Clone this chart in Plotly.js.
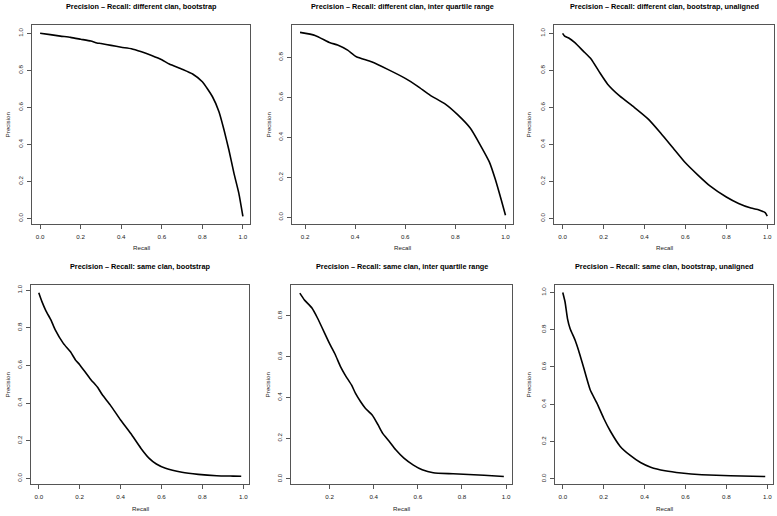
<!DOCTYPE html>
<html>
<head>
<meta charset="utf-8">
<script src="https://cdn.plot.ly/plotly-3.0.1.min.js"></script>
<style>html,body{margin:0;padding:0;background:#fff;}#chart{width:777px;height:516px;}</style>
</head>
<body>
<div id="chart"></div>
<script>
// ---- data ----
const titles = [
  "Precision \u2013 Recall: different clan, bootstrap",
  "Precision \u2013 Recall: different clan, inter quartile range",
  "Precision \u2013 Recall: different clan, bootstrap, unaligned",
  "Precision \u2013 Recall: same clan, bootstrap",
  "Precision \u2013 Recall: same clan, inter quartile range",
  "Precision \u2013 Recall: same clan, bootstrap, unaligned"
];
const xLabel = "Recall";
const yLabel = "Precision";

const recall1 = [0, 0.05, 0.1, 0.15, 0.2, 0.25, 0.28, 0.3, 0.35, 0.4, 0.45, 0.5, 0.55, 0.6, 0.637, 0.7, 0.752, 0.8, 0.85, 0.882, 0.907, 0.931, 0.956, 0.98, 1.0];
const precision1 = [1.0, 0.993, 0.985, 0.978, 0.968, 0.958, 0.948, 0.945, 0.935, 0.925, 0.917, 0.9, 0.88, 0.857, 0.834, 0.806, 0.78, 0.738, 0.657, 0.576, 0.477, 0.369, 0.243, 0.135, 0.01];

const recall2 = [0.18, 0.24, 0.30, 0.33, 0.37, 0.405, 0.465, 0.53, 0.60, 0.65, 0.70, 0.76, 0.81, 0.86, 0.90, 0.935, 0.96, 0.983, 1.0];
const precision2 = [0.925, 0.91, 0.873, 0.862, 0.836, 0.803, 0.778, 0.74, 0.695, 0.655, 0.61, 0.566, 0.512, 0.445, 0.36, 0.278, 0.187, 0.087, 0.01];

const recall3 = [0, 0.01, 0.03, 0.06, 0.1, 0.14, 0.18, 0.22, 0.28, 0.35, 0.42, 0.48, 0.54, 0.6, 0.66, 0.72, 0.8, 0.86, 0.92, 0.96, 0.99, 1.0];
const precision3 = [1.0, 0.985, 0.975, 0.95, 0.905, 0.86, 0.79, 0.725, 0.66, 0.6, 0.535, 0.46, 0.38, 0.3, 0.235, 0.175, 0.115, 0.08, 0.055, 0.045, 0.03, 0.012];

const recall4 = [0, 0.015, 0.035, 0.06, 0.08, 0.12, 0.155, 0.18, 0.2, 0.25, 0.29, 0.31, 0.35, 0.4, 0.45, 0.5, 0.54, 0.575, 0.62, 0.7, 0.78, 0.87, 0.95, 0.99];
const precision4 = [0.986, 0.94, 0.89, 0.84, 0.79, 0.717, 0.672, 0.628, 0.604, 0.531, 0.48, 0.445, 0.389, 0.31, 0.238, 0.159, 0.106, 0.076, 0.053, 0.032, 0.021, 0.014, 0.012, 0.011];

const recall5 = [0.065, 0.085, 0.12, 0.145, 0.2, 0.225, 0.25, 0.27, 0.3, 0.317, 0.34, 0.362, 0.393, 0.42, 0.44, 0.47, 0.5, 0.537, 0.58, 0.62, 0.67, 0.76, 0.9, 0.99];
const precision5 = [0.912, 0.88, 0.839, 0.79, 0.664, 0.612, 0.55, 0.511, 0.46, 0.421, 0.38, 0.347, 0.314, 0.265, 0.225, 0.185, 0.143, 0.102, 0.068, 0.045, 0.03, 0.025, 0.018, 0.012];

const recall6 = [0, 0.011, 0.023, 0.036, 0.06, 0.077, 0.1, 0.134, 0.167, 0.2, 0.233, 0.28, 0.33, 0.38, 0.43, 0.5, 0.58, 0.68, 0.82, 0.99];
const precision6 = [1.0, 0.95, 0.86, 0.805, 0.745, 0.69, 0.605, 0.478, 0.406, 0.325, 0.255, 0.175, 0.125, 0.087, 0.062, 0.043, 0.031, 0.022, 0.016, 0.012];

const recalls = [recall1, recall2, recall3, recall4, recall5, recall6];
const precisions = [precision1, precision2, precision3, precision4, precision5, precision6];

// ---- layout geometry (pixels) ----
const W = 777, H = 516;
const boxes = [
  {l: 32, r: 250, t: 25, b: 224},
  {l: 292, r: 513, t: 25, b: 224},
  {l: 554, r: 774, t: 25, b: 224},
  {l: 31, r: 249, t: 285, b: 484},
  {l: 291, r: 512, t: 285, b: 484},
  {l: 555, r: 773, t: 285, b: 484}
];
const xRanges = [[-0.04, 1.035], [0.148, 1.03], [-0.042, 1.033], [-0.038, 1.028], [0.025, 1.027], [-0.038, 1.028]];
const yRanges = [[-0.031, 1.045], [-0.034, 0.962], [-0.031, 1.045], [-0.030, 1.027], [-0.025, 0.952], [-0.028, 1.04]];
const yLabelX = [7, 268, 528, 7, 267, 528];

const FONT = "Liberation Sans, Arial, Helvetica, sans-serif";
const traces = [];
const layout = {
  width: W, height: H,
  margin: {l: 0, r: 0, t: 0, b: 0},
  paper_bgcolor: "#fff", plot_bgcolor: "#fff",
  showlegend: false,
  font: {family: FONT, color: "#000"},
  annotations: []
};

for (let i = 0; i < 6; i++) {
  const n = i === 0 ? "" : String(i + 1);
  const b = boxes[i];
  traces.push({
    x: recalls[i], y: precisions[i],
    xaxis: "x" + n, yaxis: "y" + n,
    type: "scatter", mode: "lines",
    line: {color: "#000", width: 1.6, shape: "spline", smoothing: 0.5},
    hoverinfo: "skip"
  });
  const common = {
    showgrid: false, zeroline: false,
    showline: true, mirror: true, linecolor: "#555", linewidth: 1,
    ticks: "outside", ticklen: 4, tickwidth: 1, tickcolor: "#555",
    tick0: 0, dtick: 0.2, tickformat: ".1f",
    tickfont: {family: FONT, size: 6.2, color: "#222"},
    fixedrange: true
  };
  layout["xaxis" + n] = Object.assign({}, common, {
    domain: [b.l / W, b.r / W],
    range: xRanges[i],
    anchor: "y" + n,
    ticklabelstandoff: 3
  });
  layout["yaxis" + n] = Object.assign({}, common, {
    domain: [1 - b.b / H, 1 - b.t / H],
    range: yRanges[i],
    anchor: "x" + n,
    tickangle: -90,
    ticklabelstandoff: 2
  });
  const cx = (b.l + b.r) / 2;
  layout.annotations.push({
    text: "<b>" + titles[i] + "</b>",
    xref: "paper", yref: "paper",
    x: cx / W, y: 1 - (b.t - 19) / H,
    xanchor: "center", yanchor: "middle",
    showarrow: false,
    font: {family: FONT, size: 7.3, color: "#000"}
  });
  layout.annotations.push({
    text: xLabel,
    xref: "paper", yref: "paper",
    x: cx / W, y: 1 - (b.b + 24) / H,
    xanchor: "center", yanchor: "middle",
    showarrow: false,
    font: {family: FONT, size: 6.2, color: "#222"}
  });
  layout.annotations.push({
    text: yLabel,
    xref: "paper", yref: "paper",
    x: yLabelX[i] / W, y: 1 - ((b.t + b.b) / 2) / H,
    xanchor: "center", yanchor: "middle",
    textangle: -90,
    showarrow: false,
    font: {family: FONT, size: 6.2, color: "#222"}
  });
}

Plotly.newPlot("chart", traces, layout, {staticPlot: true, displayModeBar: false});
</script>
</body>
</html>
